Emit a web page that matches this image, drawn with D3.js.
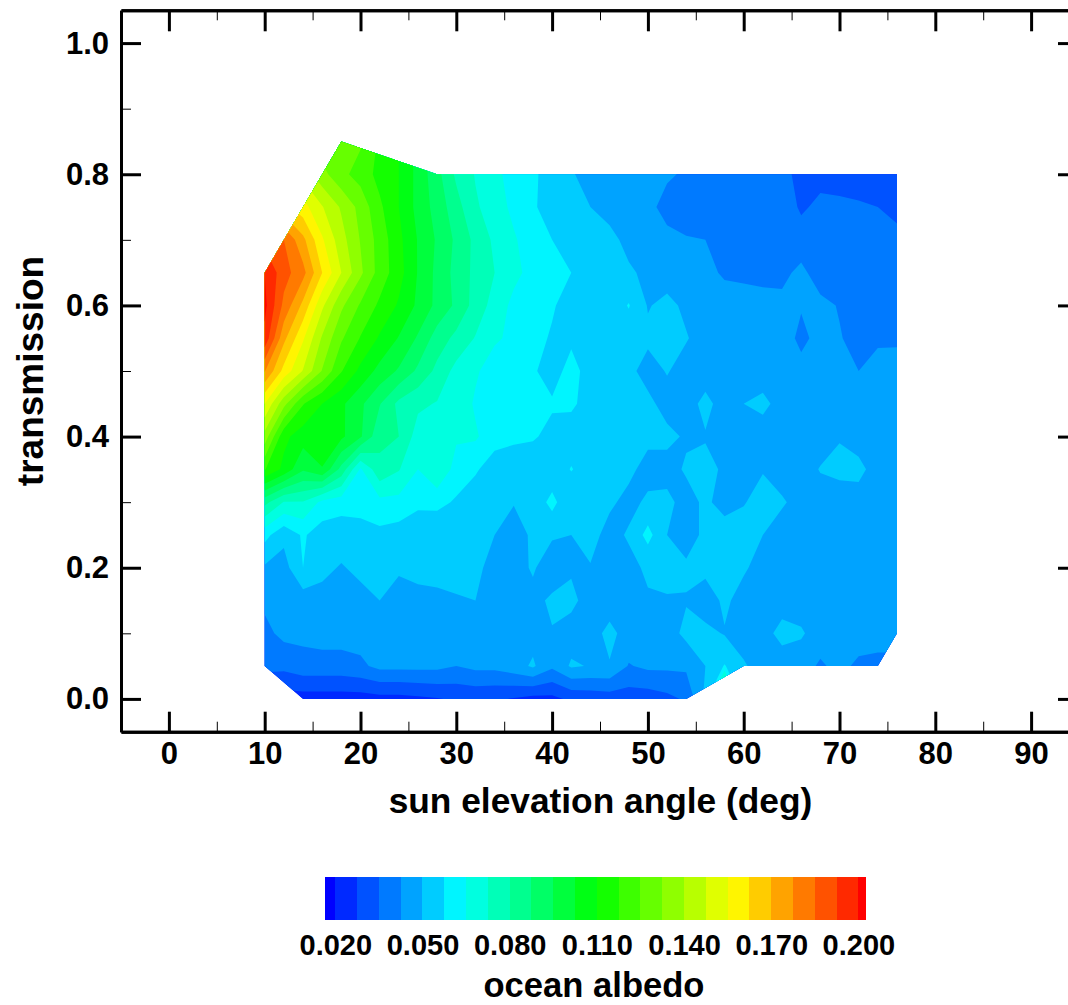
<!DOCTYPE html>
<html>
<head>
<meta charset="utf-8">
<script src="https://cdn.jsdelivr.net/npm/d3@7"></script>
<style>
body { margin: 0; background: #fff; }
text { font-family: "Liberation Sans", Arial, sans-serif; font-weight: bold; fill: #000; }
</style>
</head>
<body>
<svg id="chart" width="1068" height="1005"></svg>
<script>
// sun elevation (deg) of each grid column, transmission of each grid row
var elevations = [10,12,14,16,18,20,22,24,26,28,30,32,34,36,38,40,42,44,46,48,50,52,54,56,58,60,62,64,66,68,70,72,74,76];
var transmissions = [0,0.05,0.1,0.15,0.2,0.25,0.3,0.35,0.4,0.45,0.5,0.55,0.6,0.65,0.7,0.75,0.8,0.85];

// albedo, one row per transmission
var r000 = [.024,.024,.024,.024,.024,.024,.025,.025,.026,.027,.0285,.029,.0285,.027,.025,.0255,.029,.030,.031,.031,.031,.033,.036,.052,.109,.050,.046,.046,.046,.046,.046,.046,.046,.046];
var r005 = [.0375,.037,.0395,.0395,.0395,.041,.0445,.0445,.0445,.0445,.0425,.0445,.0445,.047,.051,.044,.051,.0495,.0495,.042,.044,.044,.044,.050,.058,.051,.046,.045,.0455,.0415,.0445,.041,.040,.040];
var r010 = [.0405,.0445,.0445,.0455,.0455,.0455,.046,.046,.046,.046,.046,.046,.046,.0465,.0475,.0495,.0465,.047,.052,.047,.046,.0465,.052,.052,.0495,.046,.0465,.053,.051,.046,.046,.046,.046,.046];
var r015 = [.044,.047,.046,.048,.047,.048,.050,.0485,.049,.049,.0495,.050,.047,.046,.0475,.0515,.052,.0465,.0465,.047,.049,.0495,.0495,.046,.0515,.047,.046,.046,.046,.046,.046,.046,.046,.046];
var r020 = [.049,.047,.0575,.0515,.0495,.0515,.0525,.0505,.051,.0515,.052,.052,.047,.0465,.051,.045,.049,.0495,.046,.0475,.0515,.052,.0515,.052,.052,.051,.047,.046,.046,.046,.046,.046,.046,.046];
var r025 = [.060,.052,.0585,.0535,.053,.054,.0555,.054,.052,.051,.0505,.0505,.050,.046,.0515,.051,.050,.053,.047,.051,.060,.050,.046,.052,.054,.0535,.050,.046,.046,.046,.046,.046,.046,.046];
var r030 = [.0825,.072,.072,.063,.0608,.0609,.0628,.0627,.0593,.0598,.0565,.053,.052,.0505,.052,.060,.0505,.050,.0515,.0475,.0515,.052,.047,.0515,.047,.0495,.053,.051,.047,.046,.046,.046,.046,.046];
var r035 = [.118,.108,.096,.102,.085,.064,.078,.073,.065,.072,.062,.0585,.0535,.0515,.0515,.052,.058,.053,.052,.052,.047,.047,.051,.052,.049,.047,.0495,.046,.046,.0505,.052,.0525,.046,.046];
var r040 = [.137,.112,.106,.108,.104,.096,.082,.080,.069,.068,.066,.066,.0605,.0595,.0585,.055,.053,.052,.052,.0515,.052,.052,.049,.0495,.0465,.046,.046,.046,.046,.046,.0495,.046,.046,.046];
var r045 = [.155,.135,.118,.110,.104,.0965,.088,.078,.074,.072,.070,.064,.061,.059,.0585,.0585,.059,.054,.053,.052,.052,.047,.047,.052,.047,.050,.052,.047,.0465,.0465,.046,.0445,.046,.0465];
var r050 = [.178,.160,.147,.132,.118,.108,.100,.094,.086,.078,.070,.066,.0615,.060,.0585,.054,.0605,.054,.053,.052,.047,.0505,.047,.0465,.046,.046,.046,.0425,.0445,.046,.0455,.0425,.046,.0465];
var r055 = [.198,.172,.156,.139,.126,.117,.109,.102,.094,.084,.078,.072,.066,.0635,.0605,.0565,.056,.0535,.053,.053,.0515,.054,.0505,.047,.0465,.046,.046,.0455,.041,.0445,.043,.040,.041,.041];
var r060 = [.202,.183,.168,.149,.134,.124,.116,.109,.101,.093,.086,.077,.0695,.063,.060,.0585,.0535,.054,.0525,.058,.0495,.052,.0485,.0465,.046,.0455,.045,.0445,.043,.0445,.042,.039,.039,.039];
var r065 = [.200,.188,.180,.1625,.1475,.134,.122,.113,.102,.093,.085,.078,.0725,.067,.0625,.0585,.0575,.054,.0525,.051,.0485,.0465,.045,.0445,.0415,.041,.0405,.0405,.0445,.0385,.038,.038,.038,.038];
var r070 = [.190,.185,.172,.156,.143,.132,.122,.112,.102,.094,.086,.078,.071,.066,.0605,.0575,.053,.0535,.052,.048,.0465,.0445,.043,.0425,.039,.0385,.038,.038,.038,.0375,.037,.037,.0365,.036];
var r075 = [.170,.165,.158,.148,.139,.130,.119,.110,.100,.092,.083,.0735,.069,.063,.0585,.054,.052,.050,.0475,.046,.0445,.040,.039,.0405,.040,.039,.039,.039,.034,.0365,.0365,.036,.035,.034];
var r080 = [.150,.148,.145,.135,.127,.122,.115,.110,.100,.090,.0785,.072,.067,.062,.0585,.055,.0505,.048,.047,.046,.045,.0435,.0415,.041,.040,.039,.038,.0355,.0345,.033,.032,.031,.031,.031];
var r085 = [.135,.132,.130,.128,.128,.126,.116,.110,.100,.090,.0785,.072,.067,.062,.0585,.055,.0505,.048,.047,.046,.045,.0435,.0415,.041,.040,.039,.038,.0355,.0345,.033,.032,.031,.031,.031];
var albedoRows = [r000,r005,r010,r015,r020,r025,r030,r035,r040,r045,r050,r055,r060,r065,r070,r075,r080,r085];

// outline of the area that has data
var outlineElev = [10,14,54,60,74,76,76,28,18,10];
var outlineTrans = [0.05,0,0,0.05,0.05,0.1,0.8,0.8,0.85,0.65];

// contour levels, 0.020 to 0.200 in steps of 0.0075
var levels = [.02,.0275,.035,.0425,.05,.0575,.065,.0725,.08,.0875,.095,.1025,.11,.1175,.125,.1325,.14,.1475,.155,.1625,.17,.1775,.185,.1925,.2];

var xMajor = [0,10,20,30,40,50,60,70,80,90];
var xMinor = [5,15,25,35,45,55,65,75,85];
var yMajor = [0,0.2,0.4,0.6,0.8,1.0];
var yMinor = [0.1,0.3,0.5,0.7,0.9];
var barTicks = [.02,.05,.08,.11,.14,.17,.2];

var svg = d3.select("#chart");

var x = d3.scaleLinear().domain([-5, 95]).range([121, 1079]);
var y = d3.scaleLinear().domain([-0.05, 1.05]).range([731.7, 10.3]);
var barX = d3.scaleLinear().domain([0.02, 0.2]).range([335.3, 858.4]);

// band 0 lies below the first level, band 25 above the last
var rainbow = d3.scaleLinear()
    .domain([0, 6.25, 12.5, 18.75, 25])
    .range(["#0000ff", "#00ffff", "#00ff00", "#ffff00", "#ff0000"]);

// contours
var nx = elevations.length, ny = transmissions.length;
var values = d3.merge(albedoRows);

var contours = d3.contours()
    .size([nx, ny])
    .thresholds(levels)(values);

var gridToPage = d3.geoTransform({
    point: function(gx, gy) {
        var e = elevations[0] + (gx - 0.5) * 2;
        var t = transmissions[0] + (gy - 0.5) * 0.05;
        this.stream.point(x(e), y(t));
    }
});
var contourPath = d3.geoPath(gridToPage);

var outline = d3.line()
    .x(function(d) { return x(d[0]); })
    .y(function(d) { return y(d[1]); })
    .curve(d3.curveLinearClosed);
var outlinePts = d3.zip(outlineElev, outlineTrans);

svg.append("clipPath").attr("id", "dataArea")
    .append("path").attr("d", outline(outlinePts));

var field = svg.append("g").attr("clip-path", "url(#dataArea)");

field.append("path")
    .attr("d", outline(outlinePts))
    .attr("fill", rainbow(0));

field.selectAll(".band")
    .data(contours)
    .enter().append("path")
    .attr("class", "band")
    .attr("d", contourPath)
    .attr("fill", function(d, i) { return rainbow(i + 1); });

// axes
function addAxis(axis, tx, ty, w, labels) {
    var g = svg.append("g").attr("transform", "translate(" + tx + "," + ty + ")").call(axis);
    g.selectAll(".domain").attr("stroke", "#000").attr("stroke-width", 3);
    g.selectAll(".tick line").attr("stroke", "#000").attr("stroke-width", w);
    if (labels) {
        g.selectAll("text").attr("font-size", 31).attr("fill", "#000");
    } else {
        g.selectAll("text").remove();
    }
    g.attr("font-family", null).attr("font-size", null);
    return g;
}

var xBottom = d3.axisBottom(x).tickValues(xMajor).tickSizeInner(-20).tickSizeOuter(0).tickPadding(10).tickFormat(d3.format("d"));
var xTop = d3.axisTop(x).tickValues(xMajor).tickSizeInner(-21).tickSizeOuter(0);
var yLeft = d3.axisLeft(y).tickValues(yMajor).tickSizeInner(-20).tickSizeOuter(0).tickPadding(12).tickFormat(d3.format(".1f"));
var yRight = d3.axisRight(y).tickValues(yMajor).tickSizeInner(-21).tickSizeOuter(0);

var xBottomMinor = d3.axisBottom(x).tickValues(xMinor).tickSizeInner(-10).tickSizeOuter(0);
var xTopMinor = d3.axisTop(x).tickValues(xMinor).tickSizeInner(-10).tickSizeOuter(0);
var yLeftMinor = d3.axisLeft(y).tickValues(yMinor).tickSizeInner(-10).tickSizeOuter(0);
var yRightMinor = d3.axisRight(y).tickValues(yMinor).tickSizeInner(-10).tickSizeOuter(0);

addAxis(xBottomMinor, 0, y(-0.05), 1, false);
addAxis(xTopMinor, 0, y(1.05), 1, false);
addAxis(yLeftMinor, x(-5), 0, 1, false);
addAxis(yRightMinor, x(95), 0, 1, false);
addAxis(xBottom, 0, y(-0.05), 3, true);
addAxis(xTop, 0, y(1.05), 3, false);
addAxis(yLeft, x(-5), 0, 3, true);
addAxis(yRight, x(95), 0, 3, false);

svg.append("text")
    .attr("x", 600.5).attr("y", 813)
    .attr("text-anchor", "middle")
    .attr("font-size", 35.3)
    .text("sun elevation angle (deg)");

svg.append("text")
    .attr("transform", "translate(43,371) rotate(-90)")
    .attr("text-anchor", "middle")
    .attr("font-size", 37)
    .text("transmission");

// colour bar
var barEdges = [325].concat(levels.map(barX), [866]);
svg.selectAll(".bar")
    .data(d3.pairs(barEdges))
    .enter().append("rect")
    .attr("class", "bar")
    .attr("x", function(d) { return d[0]; })
    .attr("width", function(d) { return d[1] - d[0]; })
    .attr("y", 877)
    .attr("height", 43)
    .attr("fill", function(d, i) { return rainbow(i); })
    .attr("shape-rendering", "crispEdges");

var barAxis = d3.axisBottom(barX).tickValues(barTicks).tickSize(0).tickPadding(14).tickFormat(d3.format(".3f"));
var barG = svg.append("g").attr("transform", "translate(0,920)").call(barAxis);
barG.select(".domain").remove();
barG.attr("font-family", null).attr("font-size", null);
barG.selectAll("text").attr("font-size", 29).attr("fill", "#000");

svg.append("text")
    .attr("x", 594).attr("y", 997)
    .attr("text-anchor", "middle")
    .attr("font-size", 34.6)
    .text("ocean albedo");
</script>
</body>
</html>
